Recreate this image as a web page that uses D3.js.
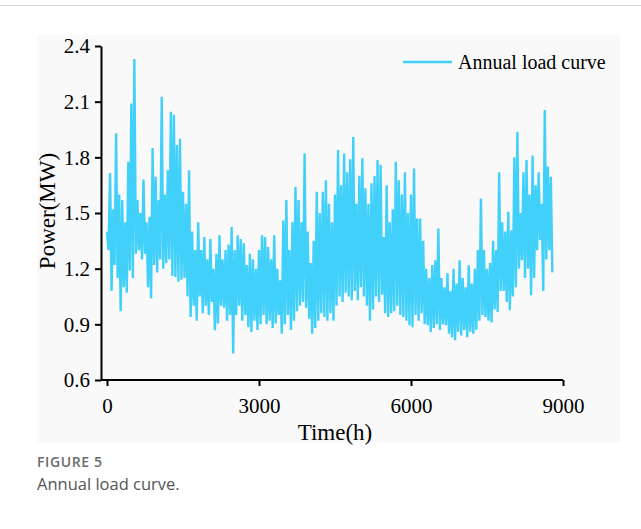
<!DOCTYPE html>
<html>
<head>
<meta charset="utf-8">
<script src="https://cdn.jsdelivr.net/npm/d3@7/dist/d3.min.js"></script>
<style>
  html, body { margin: 0; padding: 0; background: #fff; }
  svg { display: block; }
</style>
</head>
<body>
<svg id="chart" width="641" height="529"></svg>
<script>
// ---- data ----
const stepHours = 60;           // sampling step of the envelope readings
// upper readings (spike tops) per step
const highs = [
  1.40,1.715,1.52,1.93,1.60,1.57,1.45,1.776,2.09,2.33,
  1.57,1.50,1.68,1.45,1.48,1.85,1.695,1.57,2.127,1.60,
  1.73,2.045,2.03,1.866,1.90,1.614,1.55,1.73,1.40,1.30,
  1.45,1.30,1.37,1.25,1.36,1.20,1.28,1.38,1.25,1.30,
  1.33,1.425,1.30,1.38,1.36,1.337,1.22,1.28,1.25,1.20,
  1.30,1.38,1.37,1.317,1.25,1.38,1.20,1.137,1.46,1.57,
  1.30,1.45,1.64,1.57,1.45,1.82,1.40,1.23,1.35,1.614,
  1.50,1.614,1.677,1.55,1.45,1.60,1.839,1.65,1.82,1.72,
  1.79,1.91,1.55,1.70,1.795,1.633,1.55,1.66,1.70,1.785,
  1.76,1.37,1.65,1.45,1.52,1.776,1.677,1.60,1.72,1.50,
  1.60,1.74,1.47,1.47,1.35,1.20,1.15,1.22,1.245,1.416,
  1.15,1.10,1.175,1.08,1.20,1.12,1.245,1.15,1.10,1.218,
  1.12,1.20,1.30,1.578,1.30,1.20,1.23,1.35,1.30,1.72,
  1.45,1.40,1.506,1.407,1.80,1.938,1.50,1.72,1.785,1.60,
  1.81,1.65,1.72,1.55,2.055,1.75,1.695
];
// lower readings (troughs) per step
const lows = [
  1.30,1.08,1.22,1.15,0.97,1.10,1.07,1.19,1.15,1.28,
  1.30,1.25,1.28,1.10,1.04,1.22,1.18,1.25,1.20,1.23,
  1.25,1.16,1.155,1.13,1.14,1.15,1.05,0.94,1.00,0.92,
  1.05,0.96,1.00,0.95,1.02,0.868,0.905,1.00,0.99,0.92,
  0.95,0.743,0.95,1.00,0.92,0.95,0.885,0.858,0.92,0.87,
  0.90,0.95,0.90,0.92,0.88,0.905,0.95,0.85,0.90,0.95,
  0.87,0.92,0.97,1.00,1.02,0.99,0.93,0.85,0.88,0.92,
  0.96,0.94,0.92,0.96,0.92,1.00,1.05,1.02,1.07,1.05,
  1.03,1.08,1.03,1.10,1.05,1.00,0.92,0.98,1.05,1.02,
  1.06,0.96,0.94,0.96,0.97,1.00,0.95,0.94,0.92,0.895,
  0.885,0.95,0.92,0.96,0.90,0.895,0.858,0.88,0.90,0.87,
  0.90,0.895,0.85,0.83,0.814,0.86,0.84,0.87,0.83,0.86,
  0.85,0.87,0.92,0.95,0.94,0.92,0.91,0.98,0.967,1.08,
  1.08,1.02,0.976,1.05,1.10,1.20,1.245,1.15,1.20,1.057,
  1.15,1.30,1.354,1.08,1.25,1.30,1.18
];
const xTicks = [0, 3000, 6000, 9000];
const yTicks = [0.6, 0.9, 1.2, 1.5, 1.8, 2.1, 2.4];
const seriesName = "Annual load curve";
const xTitle = "Time(h)";
const yTitle = "Power(MW)";
const figLabel = "FIGURE 5";
const figCaption = "Annual load curve.";

// series: peak then trough inside each step
const series = [];
highs.forEach((v, i) => {
  series.push({ h: i * stepHours, v: v });
  series.push({ h: i * stepHours + stepHours / 2, v: lows[i] });
});

// ---- layout ----
const svg = d3.select("#chart");
const serif = "'Liberation Serif', 'Times New Roman', serif";
const lineColor = "#41d0fa";

svg.append("line").attr("x1", 0).attr("x2", 641).attr("y1", 5.5).attr("y2", 5.5)
  .attr("stroke", "#d6d6d6").attr("stroke-width", 1);

svg.append("rect").attr("x", 37).attr("y", 35).attr("width", 583).attr("height", 407)
  .attr("fill", "#f9f9f9");

const axisLeftX = 101;
const x = d3.scaleLinear().domain([0, 9000]).range([107, 563]);
const y = d3.scaleLinear().domain([0.6, 2.4]).range([380, 46]);

// data line
const line = d3.line().x(d => x(d.h)).y(d => y(d.v));
svg.append("path").datum(series)
  .attr("d", line)
  .attr("fill", "none")
  .attr("stroke", lineColor)
  .attr("stroke-width", 2.4)
  .attr("stroke-linejoin", "bevel");

// x axis
const gx = svg.append("g").attr("transform", `translate(0,${y(0.6)})`)
  .call(d3.axisBottom(x).tickValues(xTicks).tickFormat(d3.format("d"))
        .tickSize(6).tickPadding(12).tickSizeOuter(0));
gx.select(".domain").remove();
gx.append("line").attr("x1", axisLeftX).attr("x2", x(9000)).attr("y1", 0).attr("y2", 0)
  .attr("stroke", "#000").attr("stroke-width", 2);
gx.selectAll(".tick line").attr("stroke", "#000").attr("stroke-width", 2);
gx.selectAll(".tick text").attr("font-family", serif).attr("font-size", 21).attr("fill", "#000");

// y axis
const gy = svg.append("g").attr("transform", `translate(${axisLeftX},0)`)
  .call(d3.axisLeft(y).tickValues(yTicks).tickFormat(d3.format(".1f"))
        .tickSize(6).tickPadding(5).tickSizeOuter(0));
gy.select(".domain").attr("stroke", "#000").attr("stroke-width", 2);
gy.selectAll(".tick line").attr("stroke", "#000").attr("stroke-width", 2);
gy.selectAll(".tick text").attr("font-family", serif).attr("font-size", 21).attr("fill", "#000");

// axis titles
svg.append("text").attr("x", 335).attr("y", 440).attr("text-anchor", "middle")
  .attr("font-family", serif).attr("font-size", 23).attr("fill", "#000").text(xTitle);
svg.append("text").attr("transform", "translate(55,211) rotate(-90)").attr("text-anchor", "middle")
  .attr("font-family", serif).attr("font-size", 23).attr("fill", "#000").text(yTitle);

// legend
svg.append("line").attr("x1", 403).attr("x2", 452).attr("y1", 62).attr("y2", 62)
  .attr("stroke", lineColor).attr("stroke-width", 2.5);
svg.append("text").attr("x", 458).attr("y", 69).attr("font-family", serif)
  .attr("font-size", 20).attr("fill", "#000").text(seriesName);

// caption
svg.append("text").attr("x", 37).attr("y", 467).attr("font-family", "'Open Sans', sans-serif")
  .attr("font-size", 14).attr("font-weight", 600).attr("letter-spacing", 0.6)
  .attr("fill", "#6b6b6b").text(figLabel);
svg.append("text").attr("x", 37).attr("y", 490).attr("font-family", "'Open Sans', sans-serif")
  .attr("font-size", 16.5).attr("fill", "#555").text(figCaption);
</script>
</body>
</html>
